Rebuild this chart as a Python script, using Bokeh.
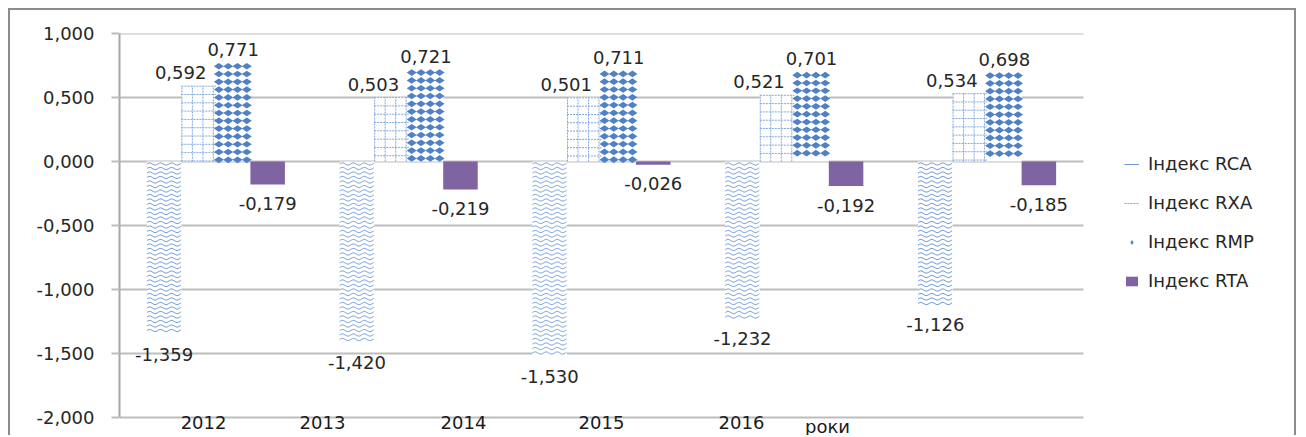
import math
from bokeh.plotting import figure
from bokeh.models import (ColumnDataSource, FixedTicker, Legend, LegendItem, Range1d)
from bokeh.core.properties import value
from bokeh.embed import file_html
from bokeh.resources import INLINE

# ---------------- data ----------------
years = ["2012", "2013", "2014", "2015", "2016"]
series_names = ["Індекс RCA", "Індекс RXA", "Індекс RMP", "Індекс RTA"]
rca = [-1.359, -1.420, -1.530, -1.232, -1.126]
rxa = [0.592, 0.503, 0.501, 0.521, 0.534]
rmp = [0.771, 0.721, 0.711, 0.701, 0.698]
rta = [-0.179, -0.219, -0.026, -0.192, -0.185]
x_tick_labels = years + ["роки"]
y_ticks = [-2.0, -1.5, -1.0, -0.5, 0.0, 0.5, 1.0]
y_tick_labels = ["-2,000", "-1,500", "-1,000", "-0,500", "0,000", "0,500", "1,000"]

# ---------------- layout / style ----------------
x_label_pos = [0.436, 1.053, 1.784, 2.50, 3.226, 3.672]
bar_w = 0.179
FONT = "DejaVu Sans"
TXT = "#262626"
W, H = 1288, 427
LEFT, TOP = 109, 23
PX_X = 5.0 / 964.0   # data units per pixel (x)
PX_Y = 3.0 / 384.0   # data units per pixel (y)
x_end = (W - LEFT) * PX_X
y_start = 1.0 - (H - TOP) * PX_Y

p = figure(width=W, height=H, output_backend="svg", toolbar_location=None,
           x_range=Range1d(0, x_end), y_range=Range1d(y_start, 1.0),
           min_border_left=LEFT, min_border_right=0,
           min_border_top=TOP, min_border_bottom=0,
           styles={"margin-left": "8px", "margin-top": "8px",
                   "border-top": "2px solid #8c8c8c",
                   "border-left": "2px solid #8c8c8c",
                   "border-right": "2px solid #8c8c8c"})
p.outline_line_color = None
p.background_fill_color = "white"
p.border_fill_color = "white"
p.xaxis.visible = False
p.xgrid.visible = False
p.ygrid.visible = False

# --- horizontal gridlines (only across the plotting area) ---
p.segment(x0=[0] * len(y_ticks), x1=[5] * len(y_ticks), y0=y_ticks, y1=y_ticks,
          line_color="#bdbdbd", line_width=2)


def bar_x(i, k):
    return i + 0.5 + (k - 1.5) * bar_w


# --- bars (white base, pattern drawn on top) ---
all_series = [rca, rxa, rmp, rta]
bar_renderers = []
for k, vals in enumerate(all_series):
    xs = [bar_x(i, k) for i in range(len(years))]
    src = ColumnDataSource(dict(x=xs, top=vals, year=years))
    fill = "#8064a2" if k == 3 else "white"
    r = p.vbar(x="x", top="top", bottom=0, width=bar_w, source=src,
               fill_color=fill, line_color=None)
    bar_renderers.append(r)

# --- RCA texture: horizontal waves ---
wx, wy = [], []
for i, v in enumerate(rca):
    x0 = bar_x(i, 0) - bar_w / 2
    npx = int(bar_w / PX_X)
    d = 2.5
    while d < abs(v) / PX_Y - 1:
        base = -d * PX_Y if v < 0 else d * PX_Y
        wx.append([x0 + j * PX_X for j in range(npx + 1)])
        wy.append([base + 1.1 * PX_Y * math.sin(2 * math.pi * j / 11.0) for j in range(npx + 1)])
        d += 4.5
wave_r = p.multi_line(xs=wx, ys=wy, line_color="#6f99d8", line_width=1)

# --- RXA texture: dotted grid ---
gx, gy = [], []
for i, v in enumerate(rxa):
    x0 = bar_x(i, 1) - bar_w / 2
    x1 = x0 + bar_w
    off = 0.5
    while x0 + off * PX_X < x1:
        gx.append([x0 + off * PX_X, x0 + off * PX_X])
        gy.append([0, v])
        off += 10.5
    d = 0.5
    while d < v / PX_Y:
        gx.append([x0, x1])
        gy.append([v - d * PX_Y, v - d * PX_Y])
        d += 8.3
grid_r = p.multi_line(xs=gx, ys=gy, line_color="#7fa6de", line_width=1, line_dash="2 1")

# --- RMP texture: diamonds (rows from bar top downwards) ---
dx, dy = [], []
for i, v in enumerate(rmp):
    x0 = bar_x(i, 2) - bar_w / 2
    d = 3.4
    while d < v / PX_Y - 1.5:
        for c in range(4):
            dx.append(x0 + (3.0 + c * 9.3) * PX_X)
            dy.append(v - d * PX_Y)
        d += 7.8
diam_r = p.scatter(x=dx, y=dy, marker="diamond", size=10, angle=math.pi / 2,
                   fill_color="#4f81c4", line_color=None)

# --- data labels ---
label_xoff = [0, -18, 0, 0]
lx, ly, lt, lxo, lyo = [], [], [], [], []
for k, vals in enumerate(all_series):
    for i, v in enumerate(vals):
        lx.append(bar_x(i, k))
        ly.append(v)
        lt.append(f"{v:.3f}".replace(".", ","))
        lxo.append(label_xoff[k])
        lyo.append(-13 if v > 0 else 19)
lab_src = ColumnDataSource(dict(x=lx, y=ly, t=lt, xo=lxo, yo=lyo))
p.text(x="x", y="y", text="t", x_offset="xo", y_offset="yo", source=lab_src,
       text_align="center", text_baseline="middle",
       text_font=value(FONT), text_font_size="18px", text_color=TXT)

# --- category labels under the plot ---
p.text(x=x_label_pos, y=[y_ticks[0]] * len(x_label_pos), text=x_tick_labels,
       text_align="center", text_baseline="top", y_offset=-2,
       text_font=value(FONT), text_font_size="18px", text_color="#1a1a1a")

# --- y axis ---
p.yaxis.bounds = (y_ticks[0], y_ticks[-1])
p.yaxis.ticker = FixedTicker(ticks=y_ticks)
p.yaxis.major_label_overrides = {t: l for t, l in zip(y_ticks, y_tick_labels)}
p.yaxis.axis_line_color = "#a8a8a8"
p.yaxis.axis_line_width = 2
p.yaxis.major_tick_line_color = "#bdbdbd"
p.yaxis.major_tick_line_width = 2
p.yaxis.major_tick_out = 8
p.yaxis.major_tick_in = 0
p.yaxis.minor_tick_line_color = None
p.yaxis.major_label_standoff = 17
p.yaxis.major_label_text_font = FONT
p.yaxis.major_label_text_font_size = "18px"
p.yaxis.major_label_text_color = TXT

# --- legend ---
items = [
    LegendItem(label=series_names[0], renderers=[wave_r]),
    LegendItem(label=series_names[1], renderers=[grid_r]),
    LegendItem(label=series_names[2], renderers=[diam_r]),
    LegendItem(label=series_names[3], renderers=[bar_renderers[3]]),
]
legend = Legend(items=items, location=(1005, 146))
legend.padding = 0
legend.margin = 0
legend.spacing = 18
legend.label_height = 20
legend.glyph_height = 12
legend.glyph_width = 15
legend.label_standoff = 9
legend.label_text_font = FONT
legend.label_text_font_size = "18px"
legend.label_text_color = TXT
legend.border_line_color = None
legend.background_fill_alpha = 0
p.add_layout(legend, "center")

open("out.html", "w").write(file_html(p, INLINE))
